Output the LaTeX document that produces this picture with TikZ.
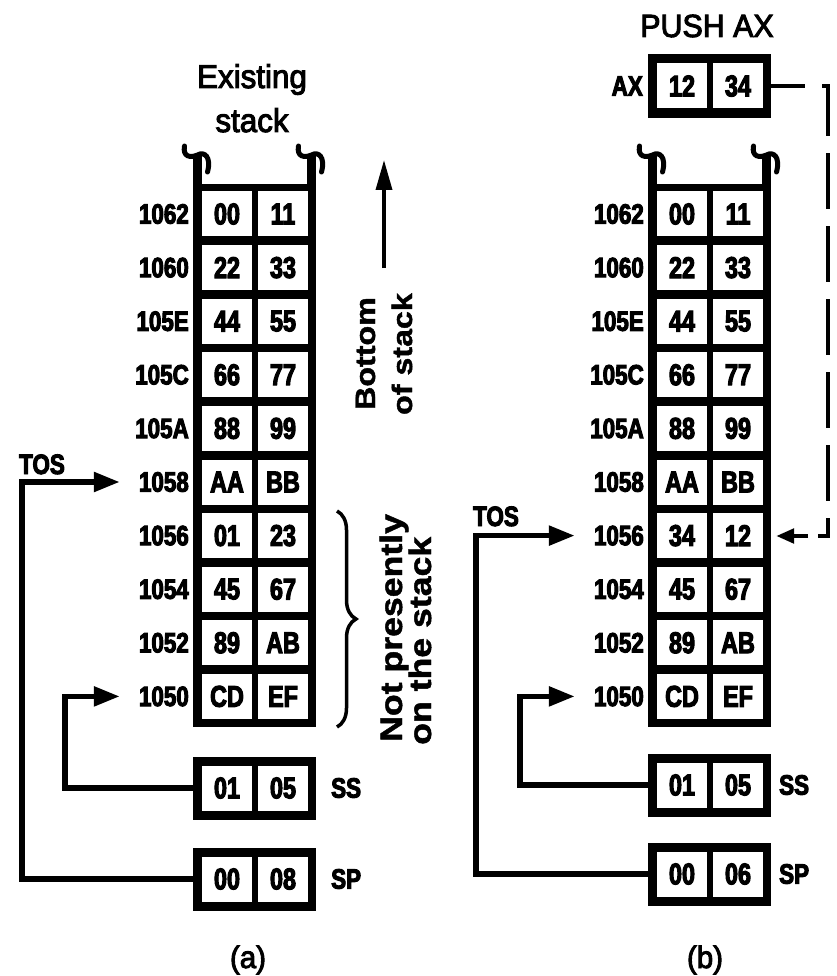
\documentclass[tikz,border=0pt]{standalone}
\usepackage{fontspec}
\setmainfont{Liberation Sans}
\newfontfamily\addrf[FakeStretch=0.8,FakeBold=3.5]{Liberation Sans Bold}
\newfontfamily\cellf[FakeStretch=0.78,FakeBold=3.5]{Liberation Sans Bold}
\newfontfamily\rotf[FakeStretch=1.15,FakeBold=1.5]{Liberation Sans Bold}
\newfontfamily\titf[FakeStretch=0.95,FakeBold=3]{Liberation Sans}
\usetikzlibrary{arrows.meta,decorations.pathreplacing}
\newcommand\stkhook[2]{%
  \fill (#1-4.5,#2) rectangle (#1+4.5,#2+30);
  \draw[line width=5pt,line cap=round] (#1-13,#2-9) .. controls (#1-15,#2+2) and (#1-7,#2+3) .. (#1,#2)
     .. controls (#1+7,#2-4) and (#1+14,#2+2) .. (#1+10,#2+17);}
\tikzset{
  frame/.style={fill=black, draw=none, inner sep=0pt},
  cellbox/.style={fill=white, draw=none, minimum width=50pt, minimum height=45pt, inner sep=0pt,
     font={\cellf\fontsize{30}{30}\selectfont}},
  addr/.style={anchor=east, inner sep=0pt, font={\addrf\fontsize{28}{28}\selectfont}},
  reglabel/.style={inner sep=0pt, font={\addrf\fontsize{28}{28}\selectfont}},
  ptr/.style={line width=5.5pt, -{Triangle[length=26pt,width=19pt]}},
  rottext/.style={inner sep=0pt, rotate=90, font={\rotf\fontsize{#1}{#1}\selectfont}},
  title/.style={inner sep=0pt, font={\titf\fontsize{33}{36}\selectfont}},
  caption/.style={inner sep=0pt, font={\titf\fontsize{31}{34}\selectfont}}
}
\begin{document}
\begin{tikzpicture}[x=1pt,y=-1pt]
\useasboundingbox (0,0) rectangle (836,976);
\fill[white] (0,0) rectangle (836,976);

% ================= (a) =================
\node[title, anchor=base] (aT1) at (252,88) {Existing};
\node[title, anchor=base] (aT2) at (252,132) {stack};
\node[frame, minimum width=123pt, minimum height=543.5pt, anchor=north west] (astack) at (193,183.5) {};
\stkhook{197.5}{155}
\stkhook{311.5}{155}
\foreach \ad/\l/\r [count=\i from 0] in {1062/00/11,1060/22/33,105E/44/55,105C/66/77,105A/88/99,1058/AA/BB,1056/01/23,1054/45/67,1052/89/AB,1050/CD/EF}{
  \pgfmathsetmacro\yy{214+53.6*\i}
  \node[addr] (a\ad) at (189,\yy) {\ad};
  \node[cellbox] (aL\ad) at (227,\yy) {\l};
  \node[cellbox] (aR\ad) at (283,\yy) {\r};
}
% registers
\node[frame, minimum width=123pt, minimum height=63pt] (aSS) at (254.5,788) {};
\node[cellbox] (aSSL) at (227,788) {01};
\node[cellbox] (aSSR) at (283,788) {05};
\node[reglabel, anchor=west] (aSSlab) at (331,788) {SS};
\node[frame, minimum width=123pt, minimum height=63pt] (aSP) at (254.5,879) {};
\node[cellbox] (aSPL) at (227,879) {00};
\node[cellbox] (aSPR) at (283,879) {08};
\node[reglabel, anchor=west] (aSPlab) at (331,879) {SP};
% pointers
\node[reglabel, anchor=base west] (aTOS) at (19,474) {TOS};
\draw[ptr, shorten >=19pt] (aSP.west) -- ++(-171,0) |- (a1058.west);
\draw[ptr, shorten >=19pt] (aSS.west) -- ++(-128,0) |- (a1050.west);
% bottom of stack
\coordinate (aBtail) at (384,268);
\coordinate (aBhead) at (384,160);
\draw[line width=3.5pt, -{Triangle[length=30pt,width=16pt]}] (aBtail) -- (aBhead);
\node[rottext=28, anchor=base east] (aBot1) at (375,297) {Bottom};
\node[rottext=28, anchor=base east] (aBot2) at (412,293) {of stack};
% brace
\draw[line width=3.5pt, decorate, decoration={brace, amplitude=19pt}] (337,511) -- (337,727);
\node[rottext=31, anchor=base west] (aNot1) at (402,742) {Not presently};
\node[rottext=31, anchor=base west] (aNot2) at (431,745) {on the stack};
\node[caption, anchor=base] (acap) at (248,968) {(a)};

% ================= (b) =================
\node[title, anchor=base, font={\titf\fontsize{32}{34}\selectfont}] (bT) at (707,37) {PUSH AX};
\node[frame, minimum width=123pt, minimum height=64pt] (bAX) at (709.5,86) {};
\node[cellbox] (bAXL) at (682,86) {12};
\node[cellbox] (bAXR) at (738,86) {34};
\node[reglabel, anchor=east] (bAXlab) at (643,86) {AX};

\node[frame, minimum width=123pt, minimum height=543.5pt, anchor=north west] (bstack) at (648,183.5) {};
\stkhook{652.5}{155}
\stkhook{766.5}{155}
\foreach \ad/\l/\r [count=\i from 0] in {1062/00/11,1060/22/33,105E/44/55,105C/66/77,105A/88/99,1058/AA/BB,1056/34/12,1054/45/67,1052/89/AB,1050/CD/EF}{
  \pgfmathsetmacro\yy{214+53.6*\i}
  \node[addr] (b\ad) at (644,\yy) {\ad};
  \node[cellbox] (bL\ad) at (682,\yy) {\l};
  \node[cellbox] (bR\ad) at (738,\yy) {\r};
}
\node[frame, minimum width=123pt, minimum height=63pt] (bSS) at (709.5,785) {};
\node[cellbox] (bSSL) at (682,785) {01};
\node[cellbox] (bSSR) at (738,785) {05};
\node[reglabel, anchor=west] (bSSlab) at (779,785) {SS};
\node[frame, minimum width=123pt, minimum height=63pt] (bSP) at (709.5,874) {};
\node[cellbox] (bSPL) at (682,874) {00};
\node[cellbox] (bSPR) at (738,874) {06};
\node[reglabel, anchor=west] (bSPlab) at (779,874) {SP};

\node[reglabel, anchor=base west] (bTOS) at (473,526) {TOS};
\draw[ptr, shorten >=19pt] (bSP.west) -- ++(-172,0) |- (b1056.west);
\draw[ptr, shorten >=19pt] (bSS.west) -- ++(-128,0) |- (b1050.west);

% dashed copy path
\coordinate (bC1) at (828,86);
\coordinate (bC2) at (828,536);
\coordinate (bC3) at (818,536);
\coordinate (bA1) at (808,536);
\coordinate (bIn) at (776,536);
\draw[line width=4.5pt, dash pattern=on 56pt off 17pt, dash phase=22pt] (bAX.east) -- (bC1) -- (bC2) -- (bC3);
\draw[line width=4.5pt, -{Triangle[length=18pt,width=14pt]}] (bA1) -- (bIn);
\node[caption, anchor=base] (bcap) at (705,968) {(b)};
\end{tikzpicture}
\end{document}
